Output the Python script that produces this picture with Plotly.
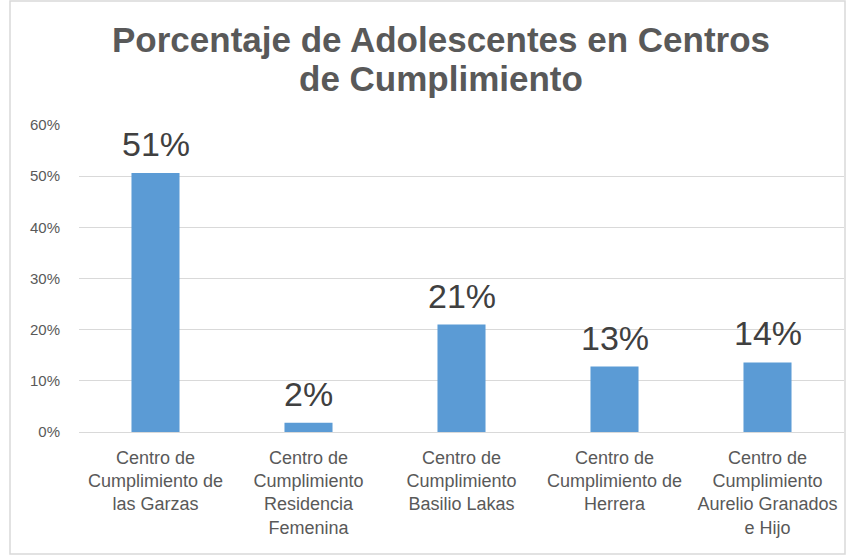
import plotly.graph_objects as go

categories = [
    "Centro de<br>Cumplimiento de<br>las Garzas",
    "Centro de<br>Cumplimiento<br>Residencia<br>Femenina",
    "Centro de<br>Cumplimiento<br>Basilio Lakas",
    "Centro de<br>Cumplimiento de<br>Herrera",
    "Centro de<br>Cumplimiento<br>Aurelio Granados<br>e Hijo",
]
values = [0.506, 0.018, 0.210, 0.128, 0.136]
y_ticks = [0, 0.1, 0.2, 0.3, 0.4, 0.5, 0.6]
y_tick_labels = ["0%", "10%", "20%", "30%", "40%", "50%", "60%"]

W, H = 847, 560
L, R, T, B = 79, 3, 125, 128
pw, ph = W - L - R, H - T - B

def px_x(p):
    return (p - L) / pw

def px_y(p):
    return (H - B - p) / ph

fig = go.Figure()
fig.add_trace(go.Bar(
    x=categories, y=values, width=0.314,
    marker=dict(color="#5B9BD5", line=dict(width=0)),
    hoverinfo="skip",
))

for c, v in zip(categories, values):
    fig.add_annotation(x=c, y=v, xref="x", yref="y", text=f"{v:.0%}",
                       showarrow=False, yanchor="bottom", yshift=8,
                       font=dict(family="Liberation Sans, Arial", size=34, color="#404040"))

title_font = dict(family="Liberation Sans, Arial", size=35, color="#595959")
fig.add_annotation(x=px_x(441), y=px_y(39), xref="paper", yref="paper",
                   text="<b>Porcentaje de Adolescentes en Centros</b>", showarrow=False,
                   xanchor="center", yanchor="middle", font=title_font)
fig.add_annotation(x=px_x(441), y=px_y(79), xref="paper", yref="paper",
                   text="<b>de Cumplimiento</b>", showarrow=False,
                   xanchor="center", yanchor="middle", font=title_font)

fig.add_shape(type="rect", xref="paper", yref="paper",
              x0=px_x(10), x1=px_x(845), y0=px_y(554), y1=px_y(1),
              line=dict(color="#D9D9D9", width=1.5), fillcolor="rgba(0,0,0,0)", layer="below")

fig.update_layout(
    width=W, height=H,
    margin=dict(l=L, r=R, t=T, b=B),
    paper_bgcolor="white", plot_bgcolor="white",
    showlegend=False,
)
fig.update_xaxes(
    showgrid=False, showline=True, linecolor="#D9D9D9", linewidth=1,
    ticks="", tickfont=dict(family="Liberation Sans, Arial", size=18, color="#595959"),
    ticklabelstandoff=9, tickangle=0,
)
fig.update_yaxes(
    range=[0, 0.6], tickvals=y_ticks, ticktext=y_tick_labels,
    showgrid=True, gridcolor="#D9D9D9", gridwidth=1, zeroline=False,
    showline=False, ticks="",
    tickfont=dict(family="Liberation Sans, Arial", size=15, color="#595959"),
    ticklabelstandoff=18,
)

fig.write_html("out.html", config={"displayModeBar": False},
               post_script="document.body.style.margin='0';")
